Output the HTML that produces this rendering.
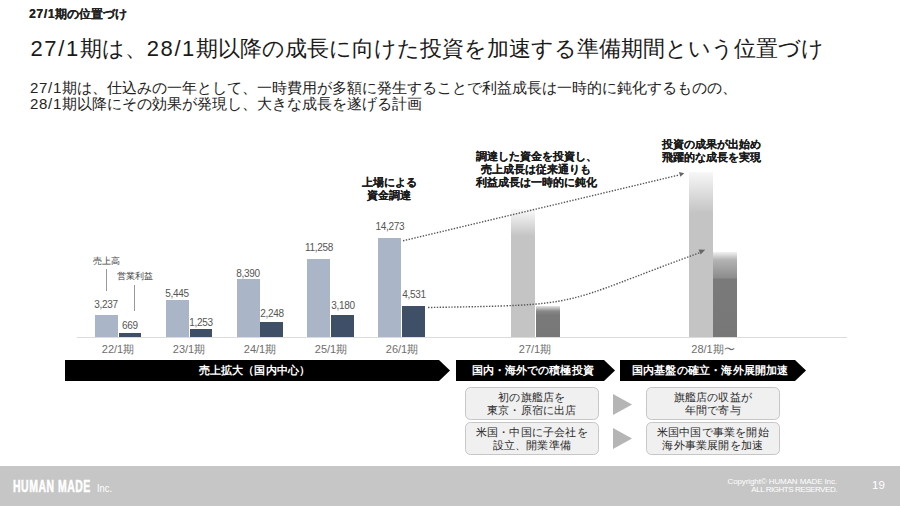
<!DOCTYPE html>
<html lang="ja">
<head>
<meta charset="utf-8">
<style>
*{margin:0;padding:0;box-sizing:border-box}
html,body{width:900px;height:506px;overflow:hidden;background:#fff}
body{position:relative;font-family:"Liberation Sans",sans-serif;color:#1a1a1a}
.a{position:absolute;white-space:nowrap;line-height:1}
.t1{left:29px;top:8px;font-size:12px;font-weight:bold;color:#222;text-shadow:0.3px 0 0 #222}
.d3{letter-spacing:0.65px}
.h1{left:30.5px;top:38px;font-size:22px;color:#1a1a1a}
.d1{letter-spacing:1.6px}
.d2{letter-spacing:0.7px}
.sub{left:30px;top:80px;font-size:15px;line-height:16px;color:#222}
.bar{position:absolute}
.lt{background:#aab5c8}
.dk{background:#3e4f67}
.num{position:absolute;font-size:10px;letter-spacing:-0.3px;color:#555;line-height:1;text-align:center;width:40px}
.per{position:absolute;font-size:11px;color:#6e6e6e;line-height:1;text-align:center;width:60px;top:344px}
.nl{position:absolute;width:200px;font-size:11px;font-weight:bold;line-height:1;text-align:center;color:#1a1a1a;white-space:nowrap;text-shadow:0.3px 0 0 #1a1a1a}
.box{position:absolute;width:133.5px;height:33px;border:1px solid #c6c6c6;border-radius:5.5px;background:#f0f0f0;font-size:11px;line-height:13.4px;color:#2a2a2a;text-align:center;padding-top:2.5px;letter-spacing:0.2px}
.bn{position:absolute;top:360px;height:21px;color:#fff;font-size:11px;font-weight:bold;line-height:21px;text-align:center;letter-spacing:0.1px}
.foot{position:absolute;left:0;top:466px;width:900px;height:40px;background:#c6c6c6}
</style>
</head>
<body>
<div class="a t1"><span class="d3">27/1</span>期の位置づけ</div>
<div class="a h1"><span class="d1">27/1</span>期は、<span class="d1">28/1</span>期以降の成長に向けた投資を加速する準備期間という位置づけ</div>
<div class="a sub"><span class="d2">27/1</span>期は、仕込みの一年として、一時費用が多額に発生することで利益成長は一時的に鈍化するものの、<br><span class="d2">28/1</span>期以降にその効果が発現し、大きな成長を遂げる計画</div>

<!-- baseline -->
<div style="position:absolute;left:77px;top:337px;width:770px;height:1px;background:#dcdcdc"></div>

<!-- bars -->
<div class="bar lt" style="left:94.8px;top:315px;width:23px;height:22px"></div>
<div class="bar dk" style="left:118.8px;top:333px;width:22.7px;height:4px"></div>
<div class="bar lt" style="left:165.6px;top:300px;width:23px;height:37px"></div>
<div class="bar dk" style="left:189.6px;top:329px;width:22.7px;height:8px"></div>
<div class="bar lt" style="left:236.5px;top:279px;width:23px;height:58px"></div>
<div class="bar dk" style="left:260.4px;top:322px;width:22.7px;height:15px"></div>
<div class="bar lt" style="left:307.3px;top:259px;width:23px;height:78px"></div>
<div class="bar dk" style="left:331.2px;top:315px;width:22.7px;height:22px"></div>
<div class="bar lt" style="left:378.2px;top:238px;width:23px;height:99px"></div>
<div class="bar dk" style="left:402.0px;top:306px;width:22.7px;height:31px"></div>
<div class="bar" style="left:511px;top:209px;width:24px;height:128px;background:linear-gradient(#fafafa,#c4c4c4 27px,#c4c4c4)"></div>
<div class="bar" style="left:536px;top:306px;width:24px;height:31px;background:linear-gradient(#e6e6e6,#8a8a8a 5px,#7a7a7a 9px,#777)"></div>
<div class="bar" style="left:689px;top:172px;width:24px;height:165px;background:linear-gradient(#f7f7f7,#c4c4c4 41px,#c4c4c4)"></div>
<div class="bar" style="left:713px;top:252px;width:24px;height:85px;background:linear-gradient(#f2f2f2,#b3b3b3 8px,#8c8c8c 26px,#7a7a7a 27px,#777)"></div>

<!-- numbers -->
<div class="num" style="left:86px;top:300px">3,237</div>
<div class="num" style="left:110px;top:320.5px">669</div>
<div class="num" style="left:157px;top:288.5px">5,445</div>
<div class="num" style="left:181px;top:318px">1,253</div>
<div class="num" style="left:228px;top:269px">8,390</div>
<div class="num" style="left:252px;top:308.5px">2,248</div>
<div class="num" style="left:299px;top:243px">11,258</div>
<div class="num" style="left:323px;top:301px">3,180</div>
<div class="num" style="left:370px;top:222px">14,273</div>
<div class="num" style="left:394px;top:289.5px">4,531</div>

<div class="a" style="left:92.5px;top:257px;font-size:9px;color:#444;letter-spacing:0.1px">売上高</div>
<div style="position:absolute;left:106px;top:269px;width:1px;height:22px;background:#999"></div>
<div class="a" style="left:116.5px;top:271.5px;font-size:9px;color:#444;letter-spacing:0.1px">営業利益</div>
<div style="position:absolute;left:134px;top:285px;width:1px;height:26px;background:#999"></div>

<!-- period labels -->
<div class="per" style="left:88px">22/1期</div>
<div class="per" style="left:159px">23/1期</div>
<div class="per" style="left:230px">24/1期</div>
<div class="per" style="left:301px">25/1期</div>
<div class="per" style="left:372px">26/1期</div>
<div class="per" style="left:505px">27/1期</div>
<div class="per" style="left:683px">28/1期〜</div>

<!-- notes -->
<div class="nl" style="left:289px;top:176.5px">上場による</div>
<div class="nl" style="left:289px;top:189.6px">資金調達</div>
<div class="nl" style="left:436px;top:151.4px">調達した資金を投資し、</div>
<div class="nl" style="left:436px;top:164.1px">売上成長は従来通りも</div>
<div class="nl" style="left:436px;top:176.8px">利益成長は一時的に鈍化</div>
<div class="nl" style="left:611px;top:138.5px">投資の成果が出始め</div>
<div class="nl" style="left:611px;top:152px">飛躍的な成長を実現</div>

<!-- dotted arrows -->
<svg style="position:absolute;left:0;top:0" width="900" height="506">
<path d="M403 240.8 L679 175" stroke="#555" stroke-width="1.4" stroke-dasharray="1.4 1.5" fill="none"/>
<path d="M428 307.5 C589.9 304.9 554.5 305.4 700.5 252.4" stroke="#555" stroke-width="1.4" stroke-dasharray="1.4 1.5" fill="none"/>
<polygon points="684.3,173.3 679,172 680.3,176.8" fill="#666"/>
<polygon points="705.2,249.8 698.6,249.4 700.6,254.6" fill="#666"/>
</svg>

<!-- banners -->
<svg style="position:absolute;left:0;top:0" width="900" height="506">
<polygon points="65,360 439,360 450,370.5 439,381 65,381" fill="#000"/>
<polygon points="456,360 604,360 615,370.5 604,381 456,381" fill="#000"/>
<polygon points="620,360 795,360 806,370.5 795,381 620,381" fill="#000"/>
<polygon points="613,394 632,404.5 613,415" fill="#b5b5b5"/>
<polygon points="613,428 632,438.5 613,449" fill="#b5b5b5"/>
</svg>
<div class="bn" style="left:65px;width:374px;padding-left:5px">売上拡大（国内中心）</div>
<div class="bn" style="left:456px;width:148px;padding-left:5.5px">国内・海外での積極投資</div>
<div class="bn" style="left:620px;width:175px;padding-left:5.5px;letter-spacing:0.2px">国内基盤の確立・海外展開加速</div>

<div class="box" style="left:465px;top:387px">初の旗艦店を<br>東京・原宿に出店</div>
<div class="box" style="left:465px;top:422px">米国・中国に子会社を<br>設立、開業準備</div>
<div class="box" style="left:646px;top:387px">旗艦店の収益が<br>年間で寄与</div>
<div class="box" style="left:646px;top:422px">米国中国で事業を開始<br>海外事業展開を加速</div>

<div class="foot"></div>
<div class="a" style="left:13px;top:478px;font-size:17.4px;font-weight:bold;color:#fff;letter-spacing:0.9px;-webkit-text-stroke:0.6px #fff;transform:scaleX(0.6);transform-origin:0 0">HUMAN MADE</div>
<div class="a" style="left:96.5px;top:483px;font-size:11.4px;color:#fff;transform:scaleX(0.82);transform-origin:0 0">Inc.</div>
<div class="a" style="left:637px;top:478px;width:200px;text-align:right;font-size:8px;line-height:7.6px;color:#fff;letter-spacing:-0.1px">Copyright© HUMAN MADE Inc.</div>
<div class="a" style="left:637px;top:485.6px;width:200px;text-align:right;font-size:8px;line-height:7.6px;color:#fff;letter-spacing:-0.45px">ALL RIGHTS RESERVED.</div>
<div class="a" style="left:872px;top:480px;font-size:11.5px;color:#fff">19</div>
</body>
</html>
